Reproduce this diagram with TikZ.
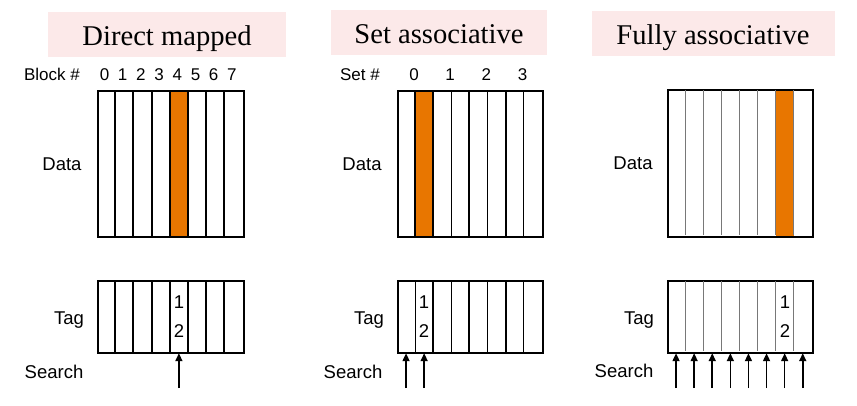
\documentclass[tikz,border=0pt]{standalone}
\usepackage{fontspec}
\setmainfont{Liberation Serif}
\setsansfont{Liberation Sans}
\usetikzlibrary{arrows.meta}
\definecolor{pinkbg}{RGB}{252,233,233}
\definecolor{cacheorange}{RGB}{232,118,0}
\definecolor{thingray}{RGB}{120,120,120}
\begin{document}
\begin{tikzpicture}[x=1pt,y=-1pt,
  titlebg/.style={fill=pinkbg, draw=none, inner sep=0, anchor=north west},
  titletext/.style={font=\fontsize{28.6}{30}\selectfont, inner sep=0, anchor=base},
  lbl/.style={font=\sffamily\fontsize{18.5}{20}\selectfont, inner sep=0, anchor=base},
  hdr/.style={font=\sffamily\fontsize{17}{19}\selectfont, inner sep=0, anchor=base},
  outline/.style={draw=black, line width=2pt, inner sep=0, anchor=north west},
  cellnode/.style={draw=none, inner sep=0, minimum height=72pt},
  thickdiv/.style={draw=black, line width=2pt},
  thindiv/.style={draw=black, line width=1pt},
  graydiv/.style={draw=thingray, line width=1.2pt},
  searcharrow/.style={-{Triangle[length=8pt,width=7pt]}, line width=1.6pt, shorten >=1pt},
]
\useasboundingbox (0,0) rectangle (857,405);

% ---------- Titles ----------
\node[titlebg, minimum width=238pt, minimum height=45pt] (t1bg) at (48,12) {};
\node[titletext] (t1) at (167,45) {Direct mapped};
\node[titlebg, minimum width=216pt, minimum height=45pt] (t2bg) at (331,10) {};
\node[titletext] (t2) at (439,43) {Set associative};
\node[titlebg, minimum width=243pt, minimum height=45pt] (t3bg) at (592,11) {};
\node[titletext] (t3) at (713,44) {Fully associative};

% ---------- Direct mapped ----------
\node[hdr] (blk) at (52,80) {Block \#};
\foreach \i in {0,...,7} \node[hdr] (bn\i) at (97+\i*18.2+7.5,80) {\i};
\fill[cacheorange] (97+4*18.2,90) rectangle ++(18.2,146);
\node[outline, minimum width=145.6pt, minimum height=146pt] (dmdata) at (97,90) {};
\foreach \i in {1,...,7} \draw[thickdiv] (97+\i*18.2,90) -- (97+\i*18.2,236);
\node[lbl] (dmdl) at (62,170) {Data};
\foreach \i in {0,...,7} \node[cellnode, minimum width=18.2pt] (dmt\i) at (97+\i*18.2+9.1,316) {};
\node[outline, minimum width=145.6pt, minimum height=72pt] (dmtag) at (97,280) {};
\foreach \i in {1,...,7} \draw[thickdiv] (97+\i*18.2,280) -- (97+\i*18.2,352);
\node[lbl] (dm1) at (178.9,308) {1};
\node[lbl] (dm2) at (178.9,337) {2};
\node[lbl] (dmtl) at (69,324) {Tag};
\node[lbl] (dmsl) at (54,378) {Search};
\coordinate (dma4) at (97+4*18.2+9.1,388);
\draw[searcharrow] (dma4) -- (dmt4.south);

% ---------- Set associative ----------
\node[hdr] (setl) at (360,80) {Set \#};
\foreach \i in {0,...,3} \node[hdr] (sn\i) at (397+\i*36.2+17,80) {\i};
\fill[cacheorange] (397+18.1,90) rectangle ++(18.1,146);
\node[outline, minimum width=145pt, minimum height=146pt] (sadata) at (397,90) {};
\foreach \i in {2,4,6} \draw[thickdiv] (397+\i*18.1,90) -- (397+\i*18.1,236);
\foreach \i in {1,3,5,7} \draw[thindiv] (397+\i*18.1,90) -- (397+\i*18.1,236);
\draw[thickdiv] (397+18.1,90) -- (397+18.1,236);
\node[lbl] (sadl) at (362,170) {Data};
\foreach \i in {0,...,7} \node[cellnode, minimum width=18.1pt] (sat\i) at (397+\i*18.1+9.05,316) {};
\node[outline, minimum width=145pt, minimum height=72pt] (satag) at (397,280) {};
\foreach \i in {2,4,6} \draw[thickdiv] (397+\i*18.1,280) -- (397+\i*18.1,352);
\foreach \i in {1,3,5,7} \draw[thindiv] (397+\i*18.1,280) -- (397+\i*18.1,352);
\node[lbl] (sa1) at (424,308) {1};
\node[lbl] (sa2) at (424,337) {2};
\node[lbl] (satl) at (369,324) {Tag};
\node[lbl] (sasl) at (353,378) {Search};
\coordinate (saa0) at (397+9.05,388);
\coordinate (saa1) at (397+18.1+9.05,388);
\draw[searcharrow] (saa0) -- (sat0.south);
\draw[searcharrow] (saa1) -- (sat1.south);

% ---------- Fully associative ----------
\fill[cacheorange] (667+6*18.1,89) rectangle ++(18.1,147);
\node[outline, minimum width=145pt, minimum height=147pt] (fadata) at (667,89) {};
\foreach \i in {1,...,7} \draw[graydiv] (667+\i*18.1,90) -- (667+\i*18.1,235);
\node[lbl] (fadl) at (633,169) {Data};
\foreach \i in {0,...,7} \node[cellnode, minimum width=18.1pt] (fat\i) at (667+\i*18.1+9.05,316) {};
\node[outline, minimum width=145pt, minimum height=72pt] (fatag) at (667,280) {};
\foreach \i in {1,...,7} \draw[graydiv] (667+\i*18.1,281) -- (667+\i*18.1,351);
\node[lbl] (fa1) at (785,308) {1};
\node[lbl] (fa2) at (785,337) {2};
\node[lbl] (fatl) at (639,324) {Tag};
\node[lbl] (fasl) at (624,377) {Search};
\foreach \i in {0,...,7} {
  \coordinate (faa\i) at (667+\i*18.1+9.05,388);
  \draw[searcharrow] (faa\i) -- (fat\i.south);
}
\end{tikzpicture}
\end{document}
